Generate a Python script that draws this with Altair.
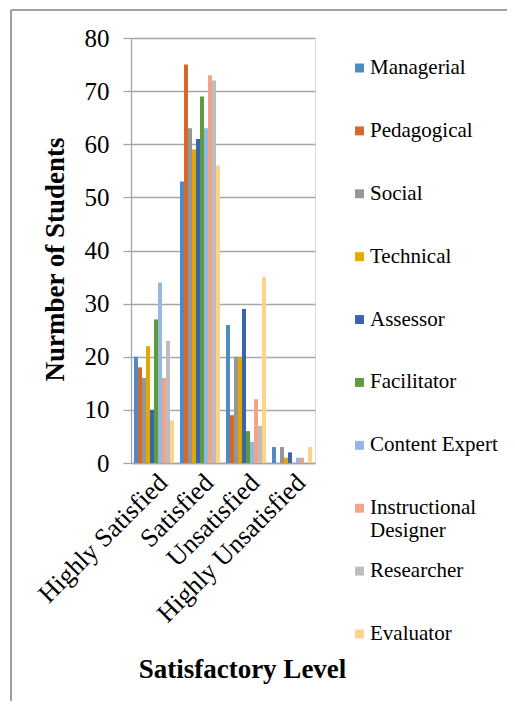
import altair as alt
import pandas as pd

categories = ["Highly Satisfied", "Satisfied", "Unsatisfied", "Highly Unsatisfied"]
roles = ["Managerial", "Pedagogical", "Social", "Technical", "Assessor",
         "Facilitator", "Content Expert", "Instructional Designer",
         "Researcher", "Evaluator"]
legend_labels = ["Managerial", "Pedagogical", "Social", "Technical", "Assessor",
                 "Facilitator", "Content Expert", "Instructional\nDesigner",
                 "Researcher", "Evaluator"]
colors = ["#4F8BC3", "#D5692A", "#969696", "#E0A800", "#3B64B0",
          "#5F9A3C", "#93B8E2", "#F0A48A", "#BDBDBD", "#FFD387"]

managerial = [20, 53, 26, 3]
pedagogical = [18, 75, 9, 0]
social = [16, 63, 20, 3]
technical = [22, 59, 20, 1]
assessor = [10, 61, 29, 2]
facilitator = [27, 69, 6, 0]
content_expert = [34, 63, 4, 1]
instructional_designer = [16, 73, 12, 1]
researcher = [23, 72, 7, 0]
evaluator = [8, 56, 35, 3]

series_values = [managerial, pedagogical, social, technical, assessor,
                 facilitator, content_expert, instructional_designer,
                 researcher, evaluator]

rows = []
for role, vals in zip(roles, series_values):
    for cat, v in zip(categories, vals):
        rows.append({"Level": cat, "Role": role, "Students": v})
df = pd.DataFrame(rows)
legend_df = pd.DataFrame({"Role": roles, "Label": legend_labels})

FONT = "Liberation Serif"
GRID = "#a6a6a6"

color_enc = alt.Color("Role:N", sort=roles,
                      scale=alt.Scale(domain=roles, range=colors), legend=None)

bars = alt.Chart(df).mark_bar().encode(
    x=alt.X("Level:N", sort=categories,
            scale=alt.Scale(paddingInner=0.13, paddingOuter=0.065),
            axis=alt.Axis(title="Satisfactory Level", labelAngle=-45,
                          labelFont=FONT, labelFontSize=26, labelColor="black",
                          labelPadding=6, labelLimit=400, ticks=False,
                          domainColor=GRID, domainWidth=1.3,
                          titleFont=FONT, titleFontSize=27, titleFontWeight="bold",
                          titleColor="black", titleX=111, titleY=214,
                          titleAlign="center", titleBaseline="alphabetic",
                          titleAnchor="start")),
    xOffset=alt.XOffset("Role:N", sort=roles,
                        scale=alt.Scale(paddingInner=0, paddingOuter=0)),
    y=alt.Y("Students:Q", scale=alt.Scale(domain=[0, 80]),
            axis=alt.Axis(title="Nurmber of Students", values=list(range(0, 81, 10)),
                          labelFont=FONT, labelFontSize=25, labelColor="black",
                          labelPadding=14, tickSize=8, tickColor=GRID,
                          tickWidth=1.3, domainColor=GRID, domainWidth=1.3,
                          grid=True, gridColor=GRID, gridWidth=1.3,
                          titleFont=FONT, titleFontSize=27, titleFontWeight="bold",
                          titleColor="black", titleX=-68, titleY=221,
                          titleAngle=-90, titleAlign="center",
                          titleBaseline="alphabetic", titleAnchor="start")),
    color=color_enc,
)

legend_y = alt.Y("Role:N", sort=roles, axis=None,
                 scale=alt.Scale(type="point", domain=roles, range=[30, 596], padding=0))

legend_sym = alt.Chart(legend_df).mark_square(size=80, opacity=1).encode(
    x=alt.value(228.5), y=legend_y, color=color_enc)

legend_txt = alt.Chart(legend_df).mark_text(
    font=FONT, fontSize=21, color="black", align="left", baseline="middle",
    lineBreak="\n", lineHeight=23).encode(
    x=alt.value(239), y=legend_y, text="Label:N")

frame_top = alt.Chart(df).mark_rule(color="#a0a0a0", strokeWidth=1.3).encode(
    x=alt.value(-120), x2=alt.value(400), y=alt.value(-28))
frame_left = alt.Chart(df).mark_rule(color="#a0a0a0", strokeWidth=1.3).encode(
    x=alt.value(-120), y=alt.value(-28), y2=alt.value(700))

chart = alt.layer(bars, legend_sym, legend_txt, frame_top, frame_left).resolve_scale(
    y="independent"
).properties(
    width=184, height=425,
    padding={"left": 123, "top": 30, "right": 192, "bottom": 238},
    autosize=alt.AutoSizeParams(type="none"),
).configure_view(stroke=None).configure(background="white")

chart.save("out.html", embed_options={"renderer": "svg", "actions": False})
